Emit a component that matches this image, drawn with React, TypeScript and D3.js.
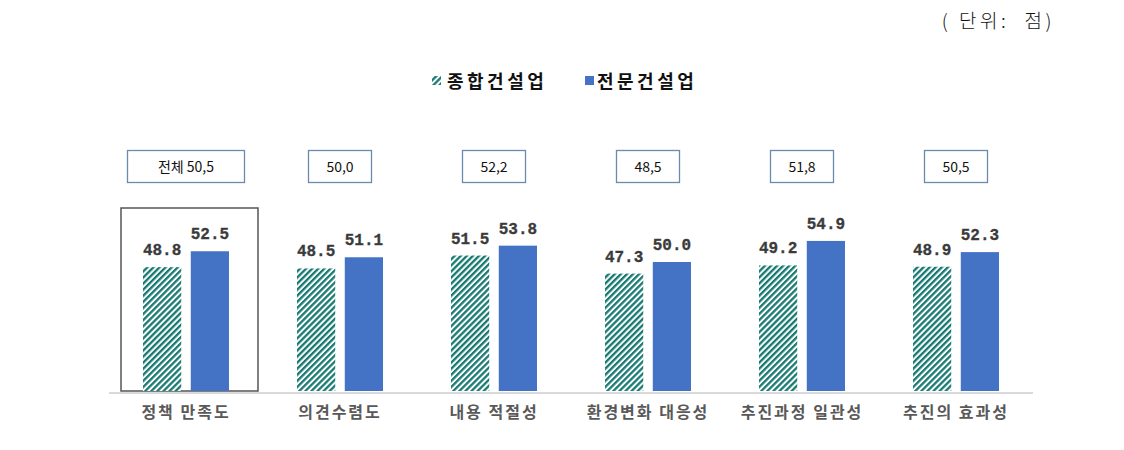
import React from "react";
import * as d3 from "d3";

const categories = ["정책 만족도", "의견수렴도", "내용 적절성", "환경변화 대응성", "추진과정 일관성", "추진의 효과성"];
const seriesNames = ["종합건설업", "전문건설업"];
const generalValues = [48.8, 48.5, 51.5, 47.3, 49.2, 48.9];
const specialValues = [52.5, 51.1, 53.8, 50.0, 54.9, 52.3];
const totalLabels = ["전체 50,5", "50,0", "52,2", "48,5", "51,8", "50,5"];
const unitLabel = "( 단위:  점)";

const W = 1124;
const H = 450;
const baseY = 391;

export default function App() {
  const x = d3.scaleBand<string>().domain(categories).range([109, 1033]).padding(0);
  const inner = d3.scaleBand<string>().domain(seriesNames).range([34, 120]).paddingInner(0.2);
  const y = d3.scaleLinear().domain([20, 70]).range([baseY, baseY - 215]);
  const seriesValues = [generalValues, specialValues];
  const fontKR = "'Noto Sans CJK KR', sans-serif";
  const numFont = "'Liberation Mono', 'DejaVu Sans Mono', monospace";

  return (
    <div style={{ position: "absolute", left: 0, top: 0 }}>
      <svg width={W} height={H} style={{ display: "block", background: "#fff" }}>
        <defs>
          <pattern id="hatch" patternUnits="userSpaceOnUse" width={4.3} height={4.3} patternTransform="rotate(45)">
            <rect x={0} y={0} width={4.3} height={4.3} fill="#fff" />
            <rect x={0} y={0} width={2.3} height={4.3} fill="#177a72" />
          </pattern>
        </defs>

        <text x={1055} y={28} textAnchor="end" fontFamily="'Noto Sans CJK KR', serif" fontWeight={300} fontSize={19} letterSpacing={3.5} fill="#111" style={{ whiteSpace: "pre" }}>
          {unitLabel}
        </text>

        {/* legend */}
        <g>
          <rect x={432} y={76} width={9} height={9} fill="url(#hatch)" />
          <text x={447} y={88} fontFamily={fontKR} fontWeight={700} fontSize={18} letterSpacing={3.5} fill="#111">
            {seriesNames[0]}
          </text>
          <rect x={585} y={76} width={9} height={9} fill="#4472c4" />
          <text x={597} y={88} fontFamily={fontKR} fontWeight={700} fontSize={18} letterSpacing={3.5} fill="#111">
            {seriesNames[1]}
          </text>
        </g>

        {/* total boxes */}
        {categories.map((c, i) => {
          const cx = (x(c) ?? 0) + x.bandwidth() / 2;
          const w = i === 0 ? 117 : 63;
          return (
            <g key={"box" + c}>
              <rect x={cx - w / 2} y={150.5} width={w} height={32} fill="#fff" stroke="#6a8ab0" strokeWidth={1.3} />
              <text x={cx} y={172} textAnchor="middle" fontFamily={fontKR} fontSize={14} fill="#111">
                {totalLabels[i]}
              </text>
            </g>
          );
        })}

        {/* highlight frame */}
        <rect x={(x(categories[0]) ?? 0) + 12} y={208} width={137} height={baseY - 208} fill="none" stroke="#555" strokeWidth={1.5} />

        {/* bars */}
        {categories.map((c, i) => (
          <g key={"g" + c} transform={`translate(${x(c)},0)`}>
            {seriesNames.map((s, j) => {
              const v = seriesValues[j][i];
              const bx = inner(s) ?? 0;
              return (
                <g key={s}>
                  <rect x={bx} y={y(v)} width={inner.bandwidth()} height={baseY - y(v)} fill={j === 0 ? "url(#hatch)" : "#4472c4"} />
                  <text x={bx + inner.bandwidth() / 2} y={y(v) - 12} textAnchor="middle" fontFamily={numFont} fontWeight={700} fontSize={16} fill="#3a3a3a" stroke="#3a3a3a" strokeWidth={0.3}>
                    {v.toFixed(1)}
                  </text>
                </g>
              );
            })}
          </g>
        ))}

        {/* axis */}
        <line x1={109} x2={1033} y1={393} y2={393} stroke="#d9d9d9" strokeWidth={2} />

        {categories.map((c) => (
          <text key={"l" + c} x={(x(c) ?? 0) + x.bandwidth() / 2} y={418} textAnchor="middle" fontFamily={fontKR} fontWeight={700} fontSize={16} letterSpacing={2} fill="#595959">
            {c}
          </text>
        ))}
      </svg>
    </div>
  );
}
